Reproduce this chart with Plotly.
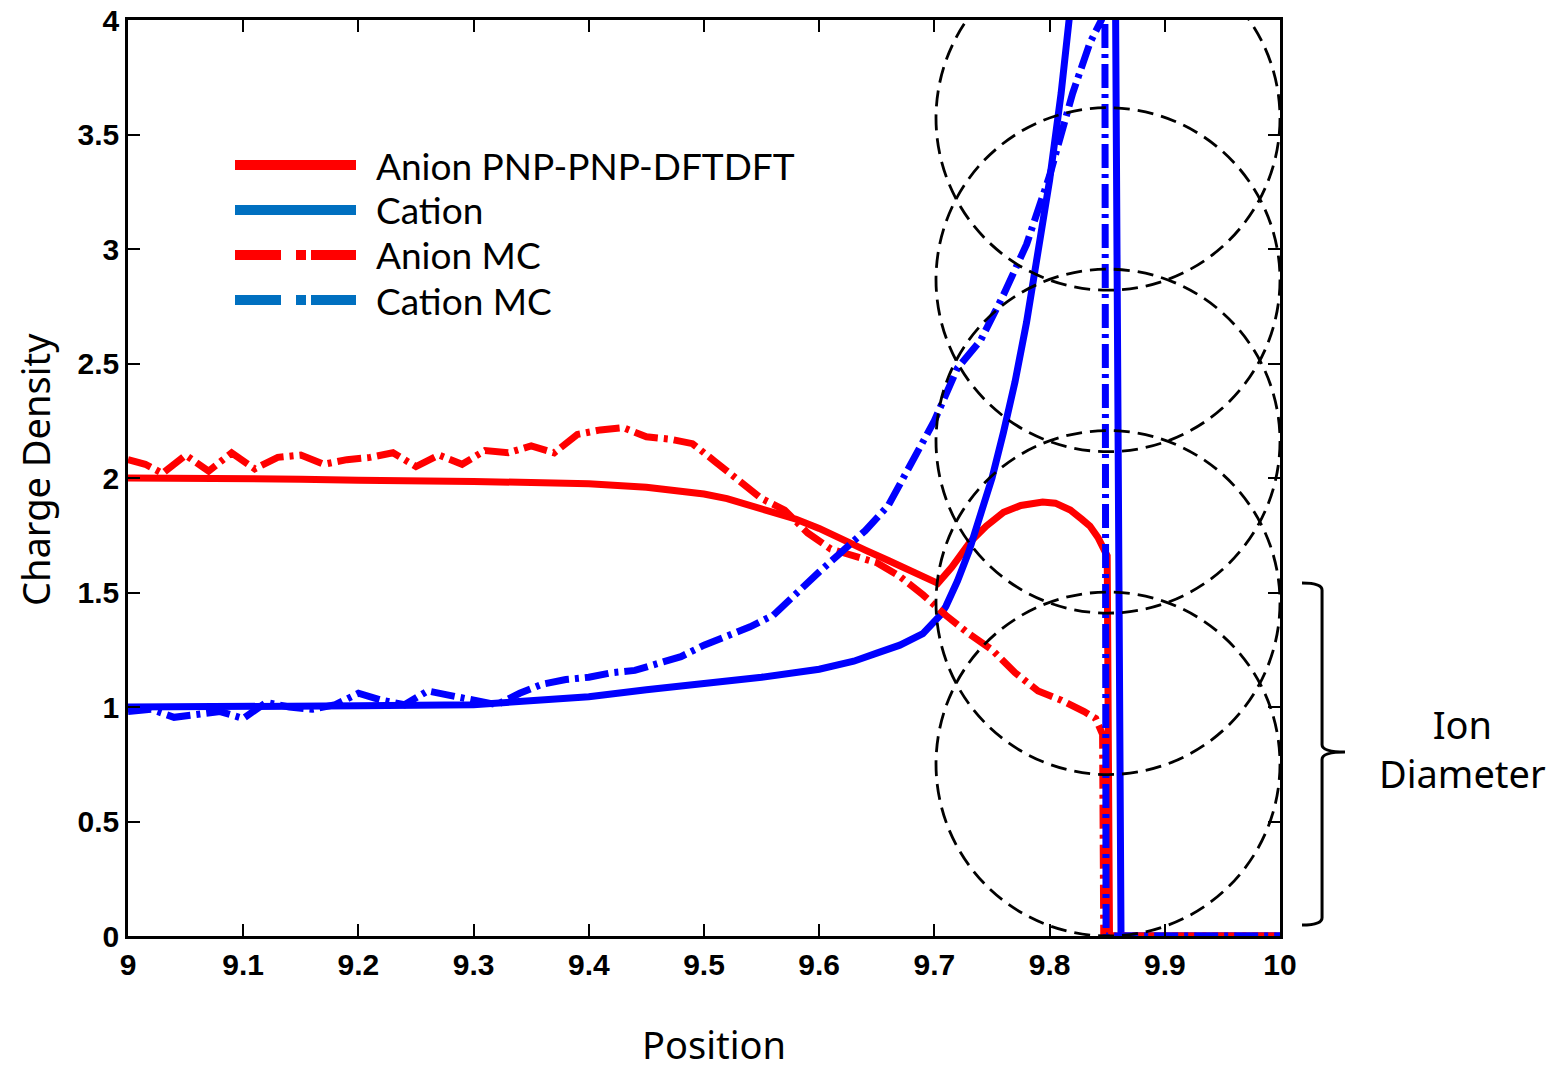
import plotly.graph_objects as go

# ---------------- data ----------------
x_ticks = [9.0, 9.1, 9.2, 9.3, 9.4, 9.5, 9.6, 9.7, 9.8, 9.9, 10.0]
x_tick_text = ["9", "9.1", "9.2", "9.3", "9.4", "9.5", "9.6", "9.7", "9.8", "9.9", "10"]
y_ticks = [0, 0.5, 1, 1.5, 2, 2.5, 3, 3.5, 4]
y_tick_text = ["0", "0.5", "1", "1.5", "2", "2.5", "3", "3.5", "4"]

anion_x = [9.00, 9.05, 9.10, 9.15, 9.20, 9.25, 9.30, 9.35, 9.40, 9.45, 9.48, 9.50, 9.52,
           9.54, 9.56, 9.58, 9.60, 9.62, 9.64, 9.66, 9.68, 9.70, 9.703, 9.715, 9.731, 9.745,
           9.76, 9.775, 9.794, 9.805, 9.818, 9.828, 9.835, 9.842, 9.848, 9.850, 9.852, 9.86,
           10.0]
anion_y = [2.00, 2.00, 2.00, 1.995, 1.99, 1.99, 1.985, 1.98, 1.975, 1.96, 1.945, 1.93, 1.91,
           1.88, 1.85, 1.82, 1.78, 1.73, 1.685, 1.64, 1.595, 1.55, 1.54, 1.61, 1.72, 1.79,
           1.85, 1.88, 1.895, 1.89, 1.86, 1.82, 1.79, 1.74, 1.68, 1.66, 0.0, 0.0,
           0.0]

cation_x = [9.00, 9.10, 9.20, 9.30, 9.35, 9.40, 9.45, 9.50, 9.55, 9.60, 9.63, 9.65, 9.67,
            9.69, 9.70, 9.705, 9.71, 9.72, 9.73, 9.74, 9.75, 9.76, 9.77, 9.78, 9.79, 9.80,
            9.81, 9.82, 9.83, 9.845, 9.855, 9.862, 10.0]
cation_y = [1.00, 1.00, 1.005, 1.01, 1.025, 1.045, 1.075, 1.10, 1.13, 1.165, 1.20, 1.235, 1.27,
            1.32, 1.37, 1.40, 1.44, 1.55, 1.68, 1.83, 2.00, 2.20, 2.42, 2.68, 2.97, 3.30,
            3.68, 4.10, 4.55, 5.3, 6.0, 0.0, 0.0]

anion_mc_x = [9.00, 9.015, 9.03, 9.05, 9.07, 9.09, 9.11, 9.13, 9.15, 9.17, 9.19, 9.21, 9.23,
              9.25, 9.27, 9.29, 9.31, 9.33, 9.35, 9.37, 9.39, 9.41, 9.43, 9.45, 9.47, 9.49,
              9.51, 9.53, 9.55, 9.57, 9.59, 9.61, 9.63, 9.65, 9.67, 9.69, 9.71, 9.73, 9.75,
              9.77, 9.79, 9.81, 9.83, 9.84, 9.846, 9.847, 9.86, 10.0]
anion_mc_y = [2.08, 2.06, 2.02, 2.10, 2.03, 2.11, 2.04, 2.09, 2.10, 2.06, 2.08, 2.09, 2.11,
              2.05, 2.10, 2.06, 2.12, 2.11, 2.14, 2.11, 2.19, 2.21, 2.22, 2.18, 2.17, 2.15,
              2.07, 1.99, 1.91, 1.86, 1.76, 1.69, 1.66, 1.63, 1.57, 1.49, 1.40, 1.32, 1.25,
              1.15, 1.07, 1.03, 0.98, 0.95, 0.88, 0.0, 0.0, 0.0]

cation_mc_x = [9.00, 9.02, 9.04, 9.06, 9.08, 9.10, 9.12, 9.14, 9.16, 9.18, 9.20, 9.22, 9.24,
               9.26, 9.28, 9.30, 9.32, 9.34, 9.36, 9.38, 9.40, 9.42, 9.44, 9.46, 9.48, 9.50,
               9.52, 9.54, 9.56, 9.58, 9.60, 9.62, 9.64, 9.66, 9.68, 9.70, 9.72, 9.74, 9.76,
               9.78, 9.80, 9.82, 9.835, 9.845, 9.848, 9.849, 9.86, 10.0]
cation_mc_y = [0.98, 0.99, 0.955, 0.97, 0.98, 0.95, 1.02, 1.00, 0.99, 1.01, 1.06, 1.03, 1.01,
               1.07, 1.05, 1.03, 1.01, 1.06, 1.10, 1.12, 1.13, 1.15, 1.16, 1.19, 1.22, 1.27,
               1.31, 1.35, 1.40, 1.50, 1.59, 1.68, 1.77, 1.88, 2.06, 2.25, 2.48, 2.60, 2.80,
               3.02, 3.32, 3.68, 3.90, 4.00, 4.05, 0.0, 0.0, 0.0]

# ion circles (dashed): centre x, radii, centre y's
circle_cx = 9.8507
circle_rx = 0.1493
circle_ry = 0.751
circle_cy = [0.751, 1.456, 2.161, 2.866, 3.571]

legend_names = ["Anion PNP-PNP-DFTDFT", "Cation", "Anion MC", "Cation MC"]

# ---------------- figure ----------------
RED = "#FF0000"
BLUE = "#0000FF"
LEG_BLUE = "#0070C0"
MC_DASH = "24px,6px,4px,6px"
LEG_DASH = "46px,15px,10px,5px"

fig = go.Figure()

series = [
    (anion_x, anion_y, RED, "solid"),
    (cation_x, cation_y, BLUE, "solid"),
    (anion_mc_x, anion_mc_y, RED, MC_DASH),
    (cation_mc_x, cation_mc_y, BLUE, MC_DASH),
]
for (xs, ys, col, dash), name in zip(series, legend_names):
    fig.add_trace(go.Scatter(x=xs, y=ys, mode="lines", name=name, showlegend=False,
                             line=dict(color=col, width=7, dash=dash)))

for cy in circle_cy:
    fig.add_shape(type="circle", xref="x", yref="y",
                  x0=circle_cx - circle_rx, x1=circle_cx + circle_rx,
                  y0=cy - circle_ry, y1=cy + circle_ry,
                  line=dict(color="black", width=2.8, dash="16px,8px"), layer="above")

# ----- legend drawn in paper coordinates -----
W_PX, H_PX = 1554, 1072
M_L, M_R, M_T, M_B = 128, 274, 20, 136
PW, PH = W_PX - M_L - M_R, H_PX - M_T - M_B


def px_x(p):
    return (p - M_L) / PW


def px_y(p):
    return (H_PX - M_B - p) / PH


legend_rows = [165, 210, 255, 300]
legend_styles = [(RED, "solid"), (LEG_BLUE, "solid"), (RED, LEG_DASH), (LEG_BLUE, LEG_DASH)]
for name, (col, dash), row in zip(legend_names, legend_styles, legend_rows):
    fig.add_shape(type="line", xref="paper", yref="paper",
                  x0=px_x(235), x1=px_x(356), y0=px_y(row), y1=px_y(row),
                  line=dict(color=col, width=10, dash=dash), layer="above")
    fig.add_annotation(xref="paper", yref="paper", x=px_x(374), y=px_y(row), text=name,
                       showarrow=False, xanchor="left", yanchor="middle",
                       font=dict(family="Lato", size=37, color="black"))

# curly brace for ion diameter
fig.add_shape(type="path", xref="paper", yref="y",
              path=("M 1.0191,1.541 Q 1.0365,1.541 1.0365,1.51 L 1.0365,0.835 "
                    "Q 1.0365,0.803 1.0564,0.803 Q 1.0365,0.803 1.0365,0.771 "
                    "L 1.0365,0.08 Q 1.0365,0.048 1.0191,0.048"),
              line=dict(color="black", width=3))

fig.add_annotation(xref="paper", yref="paper", x=px_x(1462), y=px_y(748),
                   text="Ion<br>Diameter", showarrow=False, align="center",
                   xanchor="center", yanchor="middle",
                   font=dict(family="Noto Sans", size=38, color="black"))

# axis titles
fig.add_annotation(xref="paper", yref="paper", x=px_x(714), y=px_y(1071.5), text="Position",
                   showarrow=False, xanchor="center", yanchor="bottom",
                   font=dict(family="Noto Sans", size=38, color="black"))
fig.add_annotation(xref="paper", yref="paper", x=px_x(35), y=px_y(470),
                   text="Charge Density", textangle=-90,
                   showarrow=False, xanchor="center", yanchor="middle",
                   font=dict(family="Noto Sans", size=38, color="black"))

tickfont = dict(family="Liberation Sans", size=30, color="black", weight="bold")
fig.update_xaxes(range=[9, 10], tickvals=x_ticks, ticktext=x_tick_text,
                 showline=True, linecolor="black", linewidth=2.5, mirror="ticks",
                 ticks="inside", ticklen=12, tickwidth=2, tickcolor="black",
                 showgrid=False, zeroline=False, tickfont=tickfont, automargin=False)
fig.update_yaxes(range=[0, 4], tickvals=y_ticks, ticktext=y_tick_text,
                 showline=True, linecolor="black", linewidth=2.5, mirror="ticks",
                 ticks="inside", ticklen=12, tickwidth=2, tickcolor="black",
                 showgrid=False, zeroline=False, tickfont=tickfont, automargin=False)

fig.update_layout(
    width=W_PX, height=H_PX,
    margin=dict(l=M_L, r=M_R, t=M_T, b=M_B, autoexpand=False),
    paper_bgcolor="white", plot_bgcolor="white",
    showlegend=False,
)

fig.write_html("out.html")
